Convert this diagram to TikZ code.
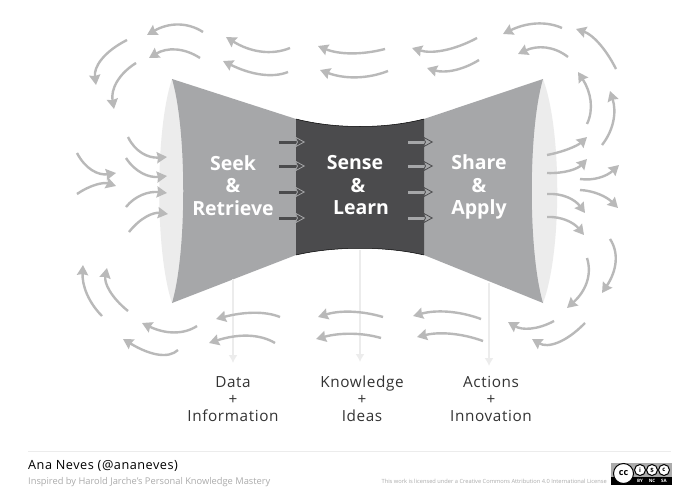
\documentclass[tikz,border=0pt]{standalone}
\usepackage{fontspec}
\setmainfont{Open Sans}
\newfontfamily\spaced[LetterSpace=4]{Open Sans}
\usepackage{xcolor}
\usepackage{tikz}
\usetikzlibrary{arrows.meta,positioning}
\definecolor{funnelgray}{HTML}{A6A7A9}
\definecolor{coregray}{HTML}{4B4B4D}
\definecolor{lensgray}{HTML}{ECECEC}
\definecolor{flowgray}{HTML}{B9B9B9}
\definecolor{labelgray}{HTML}{333333}
\definecolor{notegray}{HTML}{ABABAB}

\begin{document}
\begin{tikzpicture}[x=1pt,y=-1pt,
  stage/.style={align=center,text=white,font=\fontsize{19.5}{22.5}\selectfont\bfseries},
  result/.style={align=center,text=labelgray,font=\fontsize{15.3}{17}\spaced},
  flow/.style={-{Stealth[length=10pt,width=11pt,inset=1pt]},line width=2.4pt,draw=flowgray},
  output/.style={-{Latex[length=8pt,width=9pt]},line width=1.8pt,draw=lensgray},
  passdark/.style={-{Stealth[length=11pt,width=12pt,inset=3pt,fill=coregray,color=funnelgray,line width=.8pt]},line width=3pt,draw=coregray},
  passlight/.style={-{Stealth[length=11pt,width=12pt,inset=3pt,fill=funnelgray,color=coregray,line width=.8pt]},line width=3pt,draw=funnelgray},
  badge/.style={circle,draw=black,fill=white,line width=1pt,minimum size=#1,inner sep=0pt}
]
\useasboundingbox (0,0) rectangle (700,495);
\fill[white] (0,0) rectangle (700,495);
% funnel
\fill[lensgray] (172,79) .. controls (155,130) and (155,252) .. (172,303)
  .. controls (190,252) and (190,130) .. (172,79);
\fill[lensgray] (543,79) .. controls (562,130) and (562,252) .. (543,303)
  .. controls (525,252) and (525,130) .. (543,79);
\coordinate (seekfoot) at (233,279);
\coordinate (sensefoot) at (360,250);
\coordinate (sharefoot) at (489,283);
\fill[funnelgray] (172,79) -- (296,119) -- (296,255) -- (172,303)
  .. controls (187,252) and (187,130) .. (172,79) -- cycle;
\fill[funnelgray] (543,79) -- (424,119) -- (424,255) -- (543,303)
  .. controls (528,252) and (528,130) .. (543,79) -- cycle;
\fill[coregray] (296,119) .. controls (335,129) and (385,129) .. (424,119) -- (424,255)
  .. controls (385,246) and (335,246) .. (296,255) -- cycle;
\draw[black,line width=.5pt] (296,119) .. controls (335,129) and (385,129) .. (424,119);
\draw[black,line width=.5pt] (424,255) .. controls (385,246) and (335,246) .. (296,255);
% labels
\node[stage] (seek) at (233,185.5) {Seek\\\&\\Retrieve};
\node[stage] (sense) at (358,185.5) {Sense\hspace*{6pt}\\\&\\\hspace*{6pt}Learn};
\node[stage] (share) at (479,187) {Share\\\&\\Apply};
\node[result] (data) at (233,399) {Data\\+\\Information};
\node[result] (knowledge) at (362,399) {Knowledge\\+\\Ideas};
\node[result] (actions) at (491,399) {Actions\\+\\Innovation};
% way out
\coordinate (seektip) at (233,363);
\coordinate (sensetip) at (360,362);
\coordinate (sharetip) at (489,366);
\draw[output] (seekfoot)--(seektip);
\draw[output] (sensefoot)--(sensetip);
\draw[output] (sharefoot)--(sharetip);
% passing arrows
\foreach \y in {142,166,192,218}{
  \draw[passdark] (279,\y)--(305,\y);
  \draw[passlight] (408,\y)--(433,\y);
}
% flow arrows: start, point on the curve, tip
\foreach \ax/\ay/\mx/\my/\bx/\by in {
  203/32/177/25/147/35, 200/58/175/50/149/58, 290/48/260/51/226/37, 288/72/260/74/223/61,
  385/49/350/53/318/46, 388/71/355/77/320/70, 477/38/443/50/412/48, 479/60/453/70/427/68,
  562/28/535/24/503/34, 568/57/545/48/518/54, 616/69/598/43/576/29, 587/124/590/100/578/72,
  602/145/613/120/610/91, 547/155/570/148/587/137, 547/173/570/170/587/159, 580/179/600/177/619/165,
  547/194/568/198/585/213, 580/190/600/195/618/208, 547/217/567/221/584/235, 587/258/586/283/567/308,
  610/239/615/263/602/293, 554/321/530/328/508/322, 585/323/557/342/532/339, 481/319/447/312/413/316,
  483/341/450/334/417/337, 383/317/350/312/318/317, 381/338/350/334/316/339, 280/317/253/313/216/319,
  275/343/247/336/209/343, 197/326/173/332/142/323, 178/350/157/354/123/339, 102/316/87/293/83/265,
  128/311/110/290/107/268, 129/232/147/217/168/214, 126/207/143/195/167/193, 126/158/143/173/167/176,
  128/137/143/153/167/157, 77/153/93/170/116/173, 77/194/97/185/116/186, 127/40/102/60/96/85,
  136/63/117/83/114/109}{
  \draw[flow] (\ax,\ay) .. controls ({(4*\mx-\bx)/3},{(4*\my-\by)/3}) and ({(4*\mx-\ax)/3},{(4*\my-\ay)/3}) .. (\bx,\by);
}
% footer
\coordinate (ruleleft) at (28,451);
\coordinate (ruleright) at (671,451);
\draw[lensgray,line width=1pt] (ruleleft)--(ruleright);
\node[anchor=west,inner sep=0pt,text=black,font=\fontsize{12.7}{14}\spaced] (author) at (28,466) {Ana Neves (@ananeves)};
\node[anchor=west,inner sep=0pt,text=notegray,font=\fontsize{9.3}{11}\selectfont] (source) at (28,482) {Inspired by Harold Jarche’s Personal Knowledge Mastery};
\node[anchor=east,inner sep=0pt,text=notegray,font=\fontsize{5.7}{7}\selectfont] (license) at (607,481) {This work is licensed under a Creative Commons Attribution 4.0 International License};
% licence badge
\fill[notegray] (611,463) rectangle (672,485);
\fill[black] (611,477) rectangle (672,485);
\node[badge=20pt,font=\fontsize{9}{9}\bfseries] (cc) at (623.5,473.5) {cc};
\node[badge=11pt,font=\fontsize{6}{6}\bfseries] (by) at (640,470) {i};
\node[badge=11pt,font=\fontsize{6}{6}\bfseries] (nc) at (652,470) {\$};
\node[badge=11pt,font=\fontsize{6}{6}\bfseries] (sa) at (664,470) {c};
\node[text=white,inner sep=0pt,font=\fontsize{4.5}{5}\bfseries] (bytext) at (640,481) {BY};
\node[text=white,inner sep=0pt,font=\fontsize{4.5}{5}\bfseries] (nctext) at (652,481) {NC};
\node[text=white,inner sep=0pt,font=\fontsize{4.5}{5}\bfseries] (satext) at (664,481) {SA};
\end{tikzpicture}
\end{document}
